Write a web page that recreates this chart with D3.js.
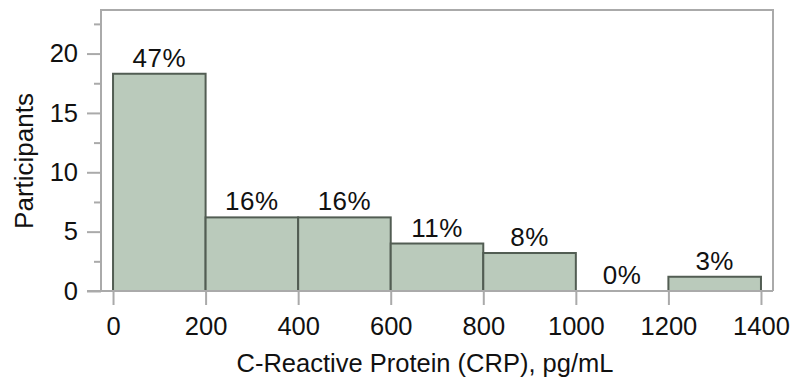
<!DOCTYPE html>
<html>
<head>
<meta charset="utf-8">
<script src="https://cdn.jsdelivr.net/npm/d3@7"></script>
<style>
  body { margin: 0; background: #fff; }
  svg { display: block; font-family: "Liberation Sans", Arial, Helvetica, sans-serif; }
</style>
</head>
<body>
<svg id="chart" width="793" height="377"></svg>
<script>
// histogram bins (pg/mL) and participant counts
const binStarts = [0, 200, 400, 600, 800, 1000, 1200];
const binWidth = 200;
const counts = [18.3, 6.2, 6.2, 4.0, 3.2, 0, 1.2];
const percentLabels = ['47%', '16%', '16%', '11%', '8%', '0%', '3%'];
const xTicks = [0, 200, 400, 600, 800, 1000, 1200, 1400];
const yTicks = [0, 5, 10, 15, 20];
const yMinorTicks = [2.5, 7.5, 12.5, 17.5, 22.5];

const width = 793;
const height = 377;
const frame = { left: 101, right: 773, top: 10, bottom: 291 };
const axisGray = '#aaaaaa';
const fontStack = '"Liberation Sans", Arial, Helvetica, sans-serif';

const svg = d3.select('#chart');

const x = d3.scaleLinear().domain([-26, 1426]).range([frame.left, frame.right]);
const y = d3.scaleLinear().domain([0, 23.67]).range([frame.bottom, frame.top]);

// bars
svg.append('g')
  .selectAll('rect')
  .data(binStarts.map((s, i) => ({ s, v: counts[i] })).filter(d => d.v > 0))
  .join('rect')
  .attr('x', d => x(d.s))
  .attr('y', d => y(d.v))
  .attr('width', d => x(d.s + binWidth) - x(d.s))
  .attr('height', d => y(0) - y(d.v))
  .attr('fill', '#bacabb')
  .attr('stroke', '#525d53')
  .attr('stroke-width', 2);

// percent labels above bars
svg.append('g')
  .selectAll('text')
  .data(binStarts.map((s, i) => ({ s, v: counts[i], t: percentLabels[i] })))
  .join('text')
  .attr('x', d => x(d.s + binWidth / 2))
  .attr('y', d => y(d.v) - 7)
  .attr('text-anchor', 'middle')
  .style('font-size', '26px')
  .style('letter-spacing', '0.5px')
  .attr('fill', '#111')
  .text(d => d.t);

// frame (left, top, right)
svg.append('path')
  .attr('d', `M${frame.left},${frame.bottom}V${frame.top}H${frame.right}V${frame.bottom}`)
  .attr('fill', 'none')
  .attr('stroke', axisGray)
  .attr('stroke-width', 2);

// y axis: minor ticks, then major ticks with labels
const yMinor = svg.append('g')
  .attr('transform', `translate(${frame.left},0)`)
  .call(d3.axisLeft(y).tickValues(yMinorTicks).tickSize(7).tickFormat(''));

const yAxis = svg.append('g')
  .attr('transform', `translate(${frame.left},0)`)
  .call(d3.axisLeft(y).tickValues(yTicks).tickSize(14).tickPadding(9));

// x axis
const xAxis = svg.append('g')
  .attr('transform', `translate(0,${y(0)})`)
  .call(d3.axisBottom(x).tickValues(xTicks).tickFormat(d3.format('d')).tickSize(14).tickPadding(12));

[yMinor, yAxis, xAxis].forEach(g => {
  g.select('.domain').remove();
  g.selectAll('.tick line').attr('stroke', axisGray).attr('stroke-width', 2);
  g.selectAll('.tick text')
    .attr('fill', '#111')
    .style('font-size', '25.5px')
    .style('font-family', fontStack);
});

// bottom axis line
svg.append('line')
  .attr('x1', 87).attr('x2', frame.right)
  .attr('y1', y(0)).attr('y2', y(0))
  .attr('stroke', axisGray)
  .attr('stroke-width', 2);

// axis titles
svg.append('text')
  .attr('x', 425)
  .attr('y', 372)
  .attr('text-anchor', 'middle')
  .style('font-size', '25.5px')
  .attr('fill', '#111')
  .text('C-Reactive Protein (CRP), pg/mL');

svg.append('text')
  .attr('transform', 'translate(33,161) rotate(-90)')
  .attr('text-anchor', 'middle')
  .style('font-size', '26px')
  .attr('fill', '#111')
  .text('Participants');
</script>
</body>
</html>
